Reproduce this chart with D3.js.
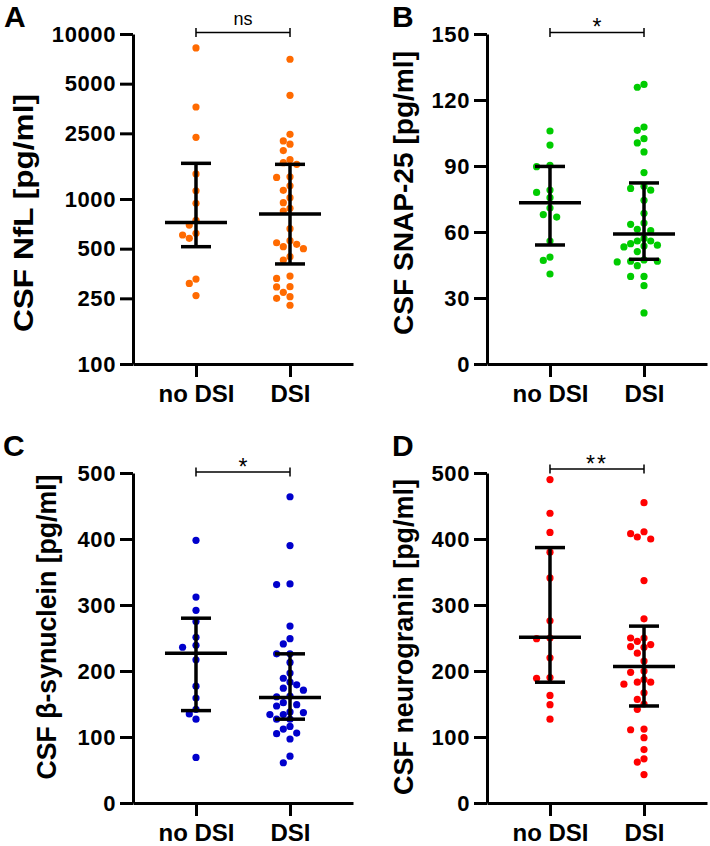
<!DOCTYPE html>
<html>
<head>
<meta charset="utf-8">
<script src="https://cdn.jsdelivr.net/npm/d3@7/dist/d3.min.js"></script>
<style>
  html, body { margin: 0; padding: 0; background: #fff; }
  svg { display: block; }
  text { font-family: "Liberation Sans", Arial, Helvetica, sans-serif; }
</style>
</head>
<body>
<svg id="chart" width="710" height="846"></svg>
<script>
// ---------- DATA ----------
const groups = ["no DSI", "DSI"];

// Panel A: CSF NfL [pg/ml]
const nflNoDSI = [8230, 3610, 2366, 1418, 1122, 942, 743, 695, 619, 605, 578, 327, 308, 260];
const nflDSI = [7030, 4250, 2466, 2250, 2148, 1965, 1731, 1660, 1622, 1364, 1352, 1203, 1129, 1018, 950, 879, 846,
                661, 559, 543, 531, 514, 500, 447, 427, 341, 330, 294, 293, 272, 256, 250, 227];
const nflStats = [[514, 720, 1645], [404, 811, 1622]]; // [q1, median, q3]
const nflTicks = [100, 250, 500, 1000, 2500, 5000, 10000];

// Panel B: CSF SNAP-25 [pg/ml]
const snapNoDSI = [105.9, 99.5, 90.3, 89.7, 79.1, 78.0, 75.6, 70.9, 67.9, 66.8, 55.9, 48.6, 47.1, 40.9];
const snapDSI = [127.1, 125.8, 107.7, 106.2, 102.4, 100.5, 96.4, 87.0, 80.8, 79.8, 79.0, 74.4, 68.5, 64.1, 63.5,
                 61.2, 60.6, 57.1, 55.9, 55.9, 54.7, 54.0, 53.6, 53.2, 51.1, 47.3, 46.7, 46.7, 46.4, 44.7,
                 39.8, 39.8, 35.6, 23.2];
const snapStats = [[54.1, 73.3, 89.8], [47.6, 59.1, 82.3]];
const snapTicks = [0, 30, 60, 90, 120, 150];

// Panel C: CSF beta-synuclein [pg/ml]
const synNoDSI = [398, 312, 292, 275, 251, 239, 236, 217, 177, 159, 142, 135, 127, 69];
const synDSI = [464, 390, 332, 331, 268, 249, 241, 226, 226, 213, 197, 189, 183, 179, 174, 171, 162, 161,
                152, 149, 147, 138, 137, 134, 134, 127, 127, 116, 112, 106, 105, 97, 71, 61];
const synStats = [[140, 227, 280], [127, 160, 226]];
const synTicks = [0, 100, 200, 300, 400, 500];

// Panel D: CSF neurogranin [pg/ml]
const ngNoDSI = [490, 439, 410, 380, 341, 276, 250, 249, 220, 190, 189, 163, 149, 127];
const ngDSI = [455, 411, 408, 403, 400, 337, 279, 250, 250, 245, 240, 237, 236, 227, 215, 200, 198, 187,
               183, 183, 180, 167, 157, 150, 142, 112, 111, 99, 81, 67, 62, 43];
const ngStats = [[183, 251, 387], [147, 207, 268]];
const ngTicks = [0, 100, 200, 300, 400, 500];

// ---------- LAYOUT ----------
const W = 220, H = 330;
const panels = [
  { letter: "A", label: "CSF NfL [pg/ml]", color: "#FF6A00", data: [nflNoDSI, nflDSI], stats: nflStats,
    log: true, domain: [100, 10000], ticks: nflTicks, sig: "ns",
    left: 133, top: 34, labelY: 213, labelX: 33, labelLen: 238, letterX: 4, letterY: 27, brOff: 1.5 },
  { letter: "B", label: "CSF SNAP-25 [pg/ml]", color: "#00CC00", data: [snapNoDSI, snapDSI], stats: snapStats,
    log: false, domain: [0, 150], ticks: snapTicks, sig: "*",
    left: 487, top: 34, labelY: 193, labelX: 413, labelLen: 284, letterX: 392, letterY: 27, brOff: 1.5 },
  { letter: "C", label: "CSF \u03B2-synuclein [pg/ml]", color: "#0000CC", data: [synNoDSI, synDSI], stats: synStats,
    log: false, domain: [0, 500], ticks: synTicks, sig: "*",
    left: 133, top: 473, labelY: 627, labelX: 56, labelLen: 305, letterX: 3, letterY: 456, brOff: 1 },
  { letter: "D", label: "CSF neurogranin [pg/ml]", color: "#FF0000", data: [ngNoDSI, ngDSI], stats: ngStats,
    log: false, domain: [0, 500], ticks: ngTicks, sig: "**",
    left: 487, top: 473, labelY: 637, labelX: 413, labelLen: 316, letterX: 392, letterY: 456, brOff: 4 }
];

const svg = d3.select("#chart");
const R = 3.6, STEP = 6.7, MIND = 7.2;

function beeswarm(values, y) {
  const placed = [];
  const sorted = values.slice().sort((a, b) => b - a);
  sorted.forEach(v => {
    const py = y(v);
    let off = 0;
    for (let i = 0; i < 40; i++) {
      const m = i === 0 ? 0 : (i % 2 === 1 ? -Math.ceil(i / 2) : Math.ceil(i / 2));
      const ox = m * STEP;
      const hit = placed.some(p => Math.hypot(p.dx - ox, p.y - py) < MIND);
      if (!hit) { off = ox; break; }
    }
    placed.push({ v, y: py, dx: off });
  });
  return placed;
}

panels.forEach(p => {
  const g = svg.append("g").attr("transform", `translate(${p.left},${p.top})`);
  const x = d3.scalePoint().domain(groups).range([0, W]).padding(0.67);
  const y = (p.log ? d3.scaleLog() : d3.scaleLinear()).domain(p.domain).range([H, 0]);

  // y axis
  const yAx = g.append("g").call(d3.axisLeft(y).tickValues(p.ticks).tickFormat(d3.format("d"))
      .tickSize(13).tickSizeOuter(0).tickPadding(4));
  yAx.select(".domain").attr("stroke-width", 3);
  yAx.selectAll(".tick line").attr("stroke-width", 3);
  yAx.selectAll(".tick text").attr("font-size", 22).attr("font-weight", "bold").attr("fill", "#000")
     .style("letter-spacing", "0.6px");

  // x axis
  const xAx = g.append("g").attr("transform", `translate(0,${H})`)
      .call(d3.axisBottom(x).tickSize(13).tickSizeOuter(0).tickPadding(8));
  xAx.select(".domain").attr("stroke-width", 3);
  xAx.selectAll(".tick line").attr("stroke-width", 3);
  xAx.selectAll(".tick text").attr("font-size", 24).attr("font-weight", "bold").attr("fill", "#000");

  // points
  groups.forEach((grp, gi) => {
    const pts = beeswarm(p.data[gi], y);
    g.append("g").selectAll("circle").data(pts).join("circle")
      .attr("cx", d => x(grp) + d.dx).attr("cy", d => d.y).attr("r", R).attr("fill", p.color);
  });

  // median + IQR
  groups.forEach((grp, gi) => {
    const [q1, med, q3] = p.stats[gi];
    const cx = x(grp);
    const sg = g.append("g").attr("stroke", "#000").attr("stroke-width", 3.5);
    sg.append("line").attr("x1", cx).attr("x2", cx).attr("y1", y(q1)).attr("y2", y(q3));
    sg.append("line").attr("x1", cx - 15).attr("x2", cx + 15).attr("y1", y(q1)).attr("y2", y(q1));
    sg.append("line").attr("x1", cx - 15).attr("x2", cx + 15).attr("y1", y(q3)).attr("y2", y(q3));
    sg.append("line").attr("x1", cx - 31).attr("x2", cx + 31).attr("y1", y(med)).attr("y2", y(med));
  });

  // significance bracket
  const by = -p.brOff;
  const x1 = x(groups[0]), x2 = x(groups[1]);
  const bg = g.append("g").attr("stroke", "#000").attr("stroke-width", 1.5);
  bg.append("line").attr("x1", x1).attr("x2", x2).attr("y1", by).attr("y2", by);
  bg.append("line").attr("x1", x1).attr("x2", x1).attr("y1", by - 4.5).attr("y2", by + 4.5);
  bg.append("line").attr("x1", x2).attr("x2", x2).attr("y1", by - 4.5).attr("y2", by + 4.5);
  g.append("text").attr("x", (x1 + x2) / 2).attr("y", p.sig === "ns" ? by - 8 : by + 2.5)
    .attr("text-anchor", "middle").attr("font-size", p.sig === "ns" ? 18 : 23)
    .style("letter-spacing", p.sig === "**" ? "2px" : "0px")
    .text(p.sig);

  // y label
  svg.append("text").attr("transform", `translate(${p.labelX},${p.labelY}) rotate(-90)`)
    .attr("text-anchor", "middle").attr("font-size", 28).attr("font-weight", "bold")
    .attr("textLength", p.labelLen).attr("lengthAdjust", "spacingAndGlyphs").text(p.label);

  // panel letter
  svg.append("text").attr("x", p.letterX).attr("y", p.letterY).attr("font-size", 30)
    .attr("font-weight", "bold").text(p.letter);
});
</script>
</body>
</html>
